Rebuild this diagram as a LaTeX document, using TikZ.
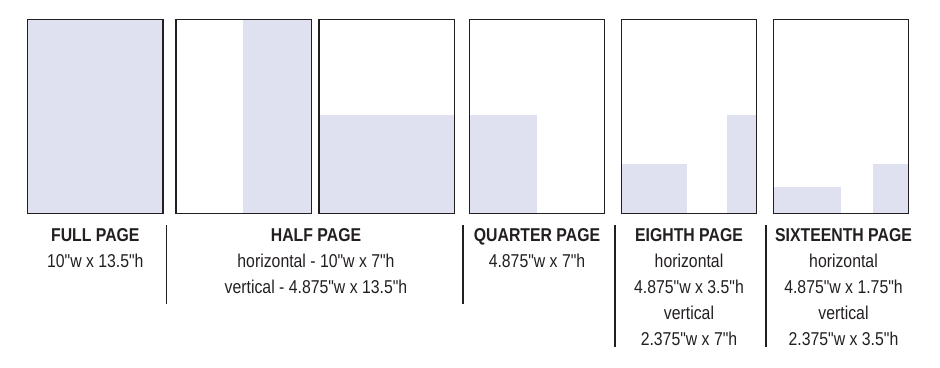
\documentclass[tikz,border=0pt]{standalone}
\usepackage{fontspec}
\setmainfont{Liberation Sans}[FakeStretch=0.85, Ligatures=TeXOff]
\definecolor{inkdark}{RGB}{35,31,32}
\definecolor{adfill}{RGB}{223,225,240}

\begin{document}
\begin{tikzpicture}[x=1pt, y=-1pt, node distance={26pt},
  page/.style={draw=inkdark, line width=1.4pt, minimum width=135.4pt, minimum height=194pt, inner sep=0pt},
  ad/.style={fill=adfill},
  title/.style={inner sep=0pt, text height=14pt, text depth=4pt, text=inkdark, font=\fontsize{18.6}{22}\selectfont\bfseries},
  size/.style={inner sep=0pt, text height=14pt, text depth=4pt, text=inkdark, font=\fontsize{18.6}{22}\selectfont},
  divider/.style={draw=inkdark, line width=1.5pt}]
\useasboundingbox (0,0) rectangle (940,367);
% ad areas
\fill[ad] (28,19.3) rectangle (162.7,213.3);
\fill[ad] (243,19.3) rectangle (311.7,213.3);
\fill[ad] (319,115) rectangle (454.7,213.3);
\fill[ad] (469.3,115) rectangle (537,213.3);
\fill[ad] (621.3,164) rectangle (687,213.3);
\fill[ad] (727,115) rectangle (756.7,213.3);
\fill[ad] (773.3,187) rectangle (841,213.3);
\fill[ad] (873,164) rectangle (908.7,213.3);
% pages
\node[page] (full) at (95.3,116.3) {};
\node[page] (halfv) at (243.8,116.3) {};
\node[page] (halfh) at (386.8,116.3) {};
\node[page] (quarter) at (537,116.3) {};
\node[page] (eighth) at (689,116.3) {};
\node[page] (sixteenth) at (841,116.3) {};
% labels
\node[title] (full-t) at (95.3,236.5) {FULL PAGE};
\node[size] (full-1) [below of=full-t] {10"w x 13.5"h};

\node[title] (half-t) at (316,236.5) {HALF PAGE};
\node[size] (half-1) [below of=half-t] {horizontal - 10"w x 7"h};
\node[size] (half-2) [below of=half-1] {vertical - 4.875"w x 13.5"h};

\node[title] (quarter-t) at (537,236.5) {QUARTER PAGE};
\node[size] (quarter-1) [below of=quarter-t] {4.875"w x 7"h};

\node[title] (eighth-t) at (689,236.5) {EIGHTH PAGE};
\node[size] (eighth-1) [below of=eighth-t] {horizontal};
\node[size] (eighth-2) [below of=eighth-1] {4.875"w x 3.5"h};
\node[size] (eighth-3) [below of=eighth-2] {vertical};
\node[size] (eighth-4) [below of=eighth-3] {2.375"w x 7"h};

\node[title] (sixteenth-t) at (843.5,236.5) {SIXTEENTH PAGE};
\node[size] (sixteenth-1) [below of=sixteenth-t] {horizontal};
\node[size] (sixteenth-2) [below of=sixteenth-1] {4.875"w x 1.75"h};
\node[size] (sixteenth-3) [below of=sixteenth-2] {vertical};
\node[size] (sixteenth-4) [below of=sixteenth-3] {2.375"w x 3.5"h};
% dividers
\draw[divider] (166.7,225) -- (166.7,304);
\draw[divider] (463,225) -- (463,304);
\draw[divider] (615,225) -- (615,347);
\draw[divider] (766,225) -- (766,347);
\end{tikzpicture}
\end{document}
